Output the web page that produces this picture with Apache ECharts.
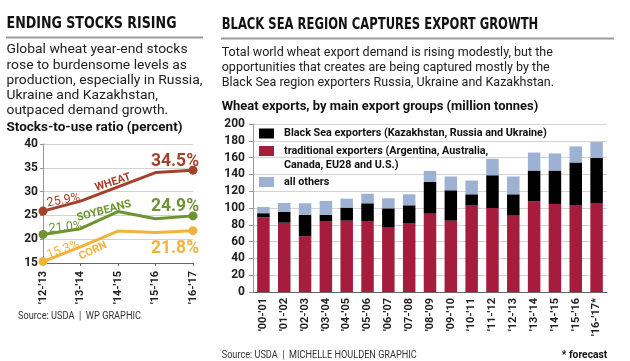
<!DOCTYPE html>
<html><head><meta charset="utf-8">
<script src="https://cdn.jsdelivr.net/npm/echarts@6/dist/echarts.min.js"></script>
<style>html,body{margin:0;padding:0;background:#fff}#c{width:630px;height:361px}</style>
</head><body><div id="c"></div><script>
// ---- data ----
const lineYears = ["'12-'13", "'13-'14", "'14-'15", "'15-'16", "'16-'17"];
const wheat = [25.9, 28.0, 31.0, 34.0, 34.5];
const soybeans = [21.0, 22.2, 25.8, 24.3, 24.9];
const corn = [15.3, 18.4, 21.7, 21.4, 21.8];
const lineAxisTicks = [15, 20, 25, 30, 35, 40];

const barYears = ["'00-'01", "'01-'02", "'02-'03", "'03-'04", "'04-'05", "'05-'06", "'06-'07", "'07-'08", "'08-'09", "'09-'10", "'10-'11", "'11-'12", "'12-'13", "'13-'14", "'14-'15", "'15-'16", "'16-'17*"];
const traditional = [89, 82.5, 66.5, 84.5, 85, 84.5, 77.3, 81.7, 93.2, 84.9, 102.8, 100, 91.6, 108, 104.8, 103.6, 106];
const blackSea = [4.8, 13.1, 25.5, 7.5, 15.5, 21.1, 22.3, 21.5, 37.8, 36.2, 13.5, 39, 24.7, 36.6, 39.8, 50.6, 53.8];
const others = [7.4, 10.4, 13.6, 16.4, 10.6, 11.4, 12, 13.1, 13.2, 16.4, 16.4, 19.6, 21.2, 21.4, 20.4, 19.1, 18.7];
const barAxisTicks = [0, 20, 40, 60, 80, 100, 120, 140, 160, 180, 200];

const leftIntro = ['Global wheat year-end stocks', 'rose to burdensome levels as', 'production, especially in Russia,', 'Ukraine and Kazakhstan,', 'outpaced demand growth.'];
const rightIntro = ['Total world wheat export demand is rising modestly, but the', 'opportunities that creates are being captured mostly by the', 'Black Sea region exporters Russia, Ukraine and Kazakhstan.'];

// ---- style ----
const HEAD = '"DejaVu Sans Condensed", "Roboto", sans-serif';
const BODY = '"Roboto", "Liberation Sans", sans-serif';
const TXT = '#222';
const C_WHEAT = '#a3412a', C_SOY = '#6e9332', C_CORN = '#f2b33d';
const C_RED = '#a61c3c', C_BLACK = '#000000', C_BLUE = '#9db2d2';
const GRID = '#d3d3d3', AXIS = '#666';

const mctx = document.createElement('canvas').getContext('2d');
function measure(text, font) { mctx.font = font; return mctx.measureText(text).width; }
function textEl(text, font, x, y, sx, color, align) {
  return { type: 'text', x: x, y: y, scaleX: sx, z: 10,
    style: { text: text, font: font, fill: color, textAlign: align || 'left', textVerticalAlign: 'middle' } };
}
function fitText(text, font, x, y, w, color, align) {
  return textEl(text, font, x, y, w / measure(text, font), color, align);
}
function fitBlock(lines, font, x, y0, lh, refIdx, w, color) {
  const sx = w / measure(lines[refIdx], font);
  return lines.map((t, i) => textEl(t, font, x, y0 + i * lh, sx, color));
}

function endLabel(v, color, dx, dy, size, rot, bold) {
  return { value: v, symbolSize: 9, label: { show: true, position: 'inside', offset: [dx, dy], rotate: rot || 0,
    formatter: v.toFixed(1) + '%', color: color, fontSize: size, fontFamily: BODY, fontWeight: bold ? 'bold' : 'normal' } };
}
function lineData(arr, color, first, last) {
  return arr.map((v, i) => {
    if (i === 0) return endLabel(v, color, first[0], first[1], 12.5, first[2], false);
    if (i === arr.length - 1) return endLabel(v, color, last[0], last[1], 17.5, 0, true);
    return { value: v, symbolSize: 0 };
  });
}
function lineSeries(name, arr, color, first, last) {
  return { name: name, type: 'line', xAxisIndex: 0, yAxisIndex: 0, data: lineData(arr, color, first, last),
    symbol: 'circle', showAllSymbol: true, lineStyle: { color: color, width: 3 }, itemStyle: { color: color },
    label: { show: false }, emphasis: { disabled: true }, z: 3 };
}

const legendText = { fontFamily: BODY, fontWeight: 'bold', fontSize: 10.8, color: '#111', padding: [0, 0, 0, 5] };

const chart = echarts.init(document.getElementById('c'), null, { renderer: 'canvas' });
chart.setOption({
  animation: false,
  backgroundColor: '#fff',
  graphic: [].concat(
    [fitText('ENDING STOCKS RISING', 'bold 16.5px ' + HEAD, 6.5, 24, 170, '#111'),
     { type: 'line', shape: { x1: 6, y1: 37.5, x2: 203, y2: 37.5 }, style: { stroke: '#9a9a9a', lineWidth: 2 } }],
    fitBlock(leftIntro, '13px ' + BODY, 6.5, 50, 15.25, 2, 196, TXT),
    [fitText('Stocks-to-use ratio (percent)', 'bold 13.5px ' + BODY, 6.5, 128, 176, '#111'),
     fitText('Source: USDA  |  WP GRAPHIC', '11px ' + BODY, 18, 316, 123, '#333'),
     fitText('BLACK SEA REGION CAPTURES EXPORT GROWTH', 'bold 16.5px ' + HEAD, 221.7, 24.5, 316.6, '#111'),
     { type: 'line', shape: { x1: 221, y1: 38.5, x2: 614, y2: 38.5 }, style: { stroke: '#9a9a9a', lineWidth: 2 } }],
    fitBlock(rightIntro, '13px ' + BODY, 221.7, 52.5, 15, 1, 328, TXT),
    [fitText('Wheat exports, by main export groups (million tonnes)', 'bold 13.5px ' + BODY, 221.7, 107, 316.6, '#111'),
     fitText('Source: USDA  |  MICHELLE HOULDEN GRAPHIC', '11px ' + BODY, 221.7, 355.5, 195, '#333'),
     fitText('* forecast', 'bold 11.5px ' + BODY, 607.3, 355.5, 45.6, '#111', 'right'),
     { type: 'text', x: 113, y: 182.5, rotation: 18 * Math.PI / 180, z: 10, style: { text: 'WHEAT', fill: C_WHEAT, font: 'bold 11px ' + BODY, textAlign: 'center', textVerticalAlign: 'middle' } },
     { type: 'text', x: 104, y: 211, rotation: 15 * Math.PI / 180, z: 10, style: { text: 'SOYBEANS', fill: C_SOY, font: 'bold 11px ' + BODY, textAlign: 'center', textVerticalAlign: 'middle' } },
     { type: 'text', x: 93, y: 251, rotation: 25 * Math.PI / 180, z: 10, style: { text: 'CORN', fill: C_CORN, font: 'bold 11px ' + BODY, textAlign: 'center', textVerticalAlign: 'middle' } },
     { type: 'text', x: 284, y: 165.5, z: 10, style: { text: 'Canada, EU28 and U.S.)', fill: '#111', font: 'bold 10.8px ' + BODY, textAlign: 'left', textVerticalAlign: 'middle' } }]
  ),
  legend: [
    { data: ['Black Sea exporters (Kazakhstan, Russia and Ukraine)'], left: 259, top: 128, padding: 0, itemWidth: 15, itemHeight: 10, icon: 'rect',
      textStyle: legendText, selectedMode: false },
    { data: ['traditional exporters'], left: 259, top: 145.5, padding: 0, itemWidth: 15, itemHeight: 10, icon: 'rect',
      formatter: () => 'traditional exporters (Argentina, Australia,', textStyle: legendText, selectedMode: false },
    { data: ['all others'], left: 259, top: 176.5, padding: 0, itemWidth: 15, itemHeight: 10, icon: 'rect',
      textStyle: legendText, selectedMode: false }
  ],
  grid: [
    { left: 43, top: 144, width: 150, height: 119, containLabel: false },
    { left: 253, top: 124, width: 354, height: 168, containLabel: false }
  ],
  xAxis: [
    { type: 'category', gridIndex: 0, data: lineYears, boundaryGap: false,
      axisLine: { lineStyle: { color: AXIS, width: 1 } }, axisTick: { show: true, length: 3, lineStyle: { color: AXIS } },
      axisLabel: { rotate: 90, margin: 8, fontFamily: BODY, fontWeight: 'bold', fontSize: 11, color: TXT, interval: 0 } },
    { type: 'category', gridIndex: 1, data: barYears,
      axisLine: { lineStyle: { color: AXIS, width: 1 } }, axisTick: { show: false },
      axisLabel: { rotate: 90, margin: 6, fontFamily: BODY, fontWeight: 'bold', fontSize: 11, color: TXT, interval: 0 } }
  ],
  yAxis: [
    { type: 'value', gridIndex: 0, min: lineAxisTicks[0], max: lineAxisTicks[lineAxisTicks.length - 1], interval: 5,
      axisLine: { show: true, lineStyle: { color: '#999' } }, axisTick: { show: true, length: 3, lineStyle: { color: '#999' } },
      splitLine: { lineStyle: { color: GRID } },
      axisLabel: { margin: 5, fontFamily: BODY, fontWeight: 'bold', fontSize: 12, color: TXT } },
    { type: 'value', gridIndex: 1, min: barAxisTicks[0], max: barAxisTicks[barAxisTicks.length - 1], interval: 20,
      axisLine: { show: true, lineStyle: { color: '#999' } }, axisTick: { show: true, length: 4, lineStyle: { color: '#999' } },
      splitLine: { lineStyle: { color: GRID } },
      axisLabel: { margin: 8, fontFamily: BODY, fontWeight: 'bold', fontSize: 12, color: TXT } }
  ],
  series: [
    lineSeries('Wheat', wheat, C_WHEAT, [22, -7, 10], [-18, -9]),
    lineSeries('Soybeans', soybeans, C_SOY, [23, -5, 5], [-18, -9]),
    lineSeries('Corn', corn, C_CORN, [23, -4, 20], [-18, 18]),
    { name: 'traditional exporters', type: 'bar', xAxisIndex: 1, yAxisIndex: 1, stack: 'exp', data: traditional,
      barCategoryGap: '40%', itemStyle: { color: C_RED }, emphasis: { disabled: true } },
    { name: 'Black Sea exporters (Kazakhstan, Russia and Ukraine)', type: 'bar', xAxisIndex: 1, yAxisIndex: 1, stack: 'exp', data: blackSea,
      barCategoryGap: '40%', itemStyle: { color: C_BLACK }, emphasis: { disabled: true } },
    { name: 'all others', type: 'bar', xAxisIndex: 1, yAxisIndex: 1, stack: 'exp', data: others,
      barCategoryGap: '40%', itemStyle: { color: C_BLUE }, emphasis: { disabled: true } }
  ]
});
</script></body></html>
